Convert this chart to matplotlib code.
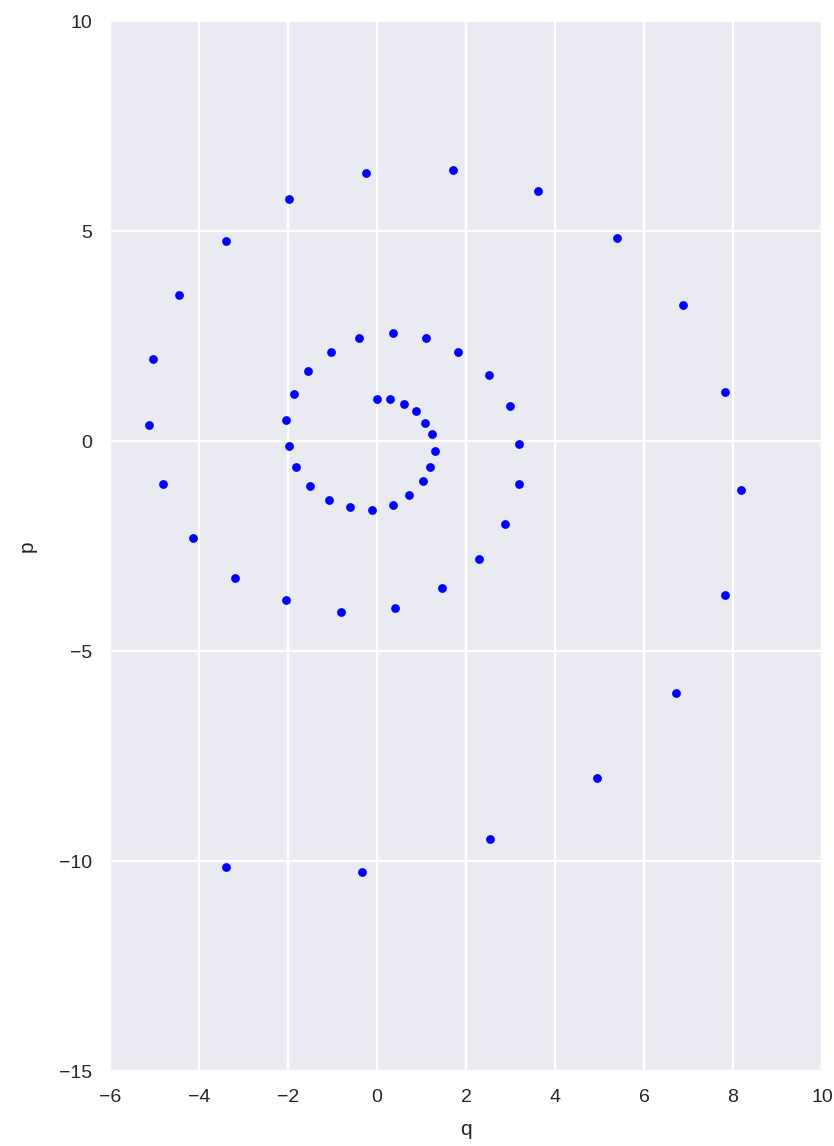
import matplotlib
matplotlib.use('Agg')
import matplotlib.pyplot as plt

# points of the phase-space spiral
q = [0.00, 0.30, 0.61, 0.88, 1.08, 1.24, 1.30, 1.19, 1.03, 0.73,
     0.35, -0.12, -0.61, -1.08, -1.50, -1.82, -1.98, -2.04, -1.87, -1.55,
     -1.03, -0.40, 0.35, 1.09, 1.83, 2.51, 2.98, 3.19, 3.20, 2.88,
     2.29, 1.45, 0.40, -0.81, -2.04, -3.19, -4.13, -4.81, -5.12, -5.03,
     -4.45, -3.39, -1.98, -0.25, 1.71, 3.62, 5.39, 6.88, 7.82, 8.18,
     7.82, 6.72, 4.94, 2.54, -0.34, -3.39]
p = [1.00, 1.00, 0.89, 0.72, 0.44, 0.16, -0.23, -0.62, -0.96, -1.29,
     -1.52, -1.64, -1.58, -1.41, -1.07, -0.62, -0.12, 0.50, 1.12, 1.67,
     2.13, 2.46, 2.57, 2.46, 2.12, 1.56, 0.83, -0.07, -1.02, -1.97,
     -2.81, -3.51, -3.97, -4.08, -3.79, -3.26, -2.31, -1.02, 0.38, 1.95,
     3.48, 4.76, 5.76, 6.38, 6.45, 5.95, 4.83, 3.24, 1.17, -1.17,
     -3.67, -6.00, -8.02, -9.48, -10.26, -10.14]

xticks = [-6, -4, -2, 0, 2, 4, 6, 8, 10]
yticks = [-15, -10, -5, 0, 5, 10]

plt.rcParams['font.family'] = ['Liberation Sans', 'DejaVu Sans']

fig = plt.figure(figsize=(8.34, 11.46), dpi=100)
ax = fig.add_axes([110 / 834, 75 / 1146, 712 / 834, 1050 / 1146])
ax.set_facecolor('#EAEAF2')
for s in ax.spines.values():
    s.set_visible(False)
ax.grid(True, color='white', linewidth=1.6)
ax.set_axisbelow(True)

ax.scatter(q, p, s=40, color='b', linewidths=0, zorder=3)

ax.set_xlim(-6, 10)
ax.set_ylim(-15, 10)
ax.set_xticks(xticks)
ax.set_yticks(yticks)
ax.set_xticklabels([str(t).replace('-', '\u2212') for t in xticks])
ax.set_yticklabels([str(t).replace('-', '\u2212') for t in yticks])
ax.tick_params(length=0, pad=13, labelsize=14, labelcolor='#262626')
ax.set_xlabel('q', fontsize=15, color='#262626', labelpad=10)
ax.set_ylabel('p', fontsize=15, color='#262626', labelpad=16)

fig.savefig('out.png', dpi=100)
